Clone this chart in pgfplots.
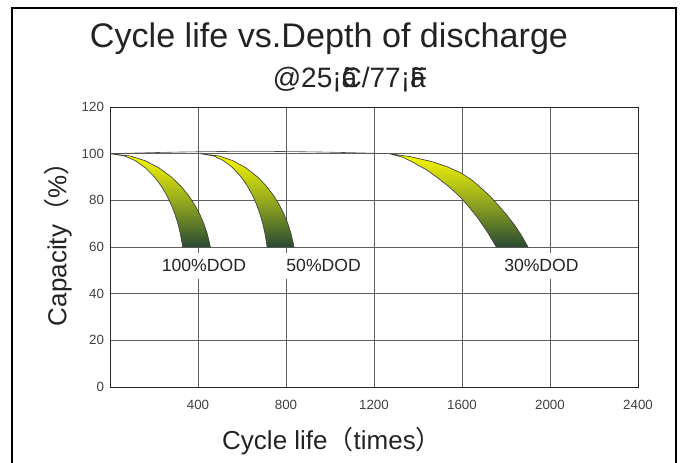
\documentclass[border=0pt]{standalone}
\usepackage{pgfplots}
\pgfplotsset{compat=1.18}
\usepackage{fontspec}
\setmainfont{Liberation Sans}
\newfontfamily\cjk{Noto Sans CJK SC}
\definecolor{bandtop}{RGB}{250,250,0}
\definecolor{bandmid}{RGB}{150,170,30}
\definecolor{bandbot}{RGB}{40,75,50}
\definecolor{gridc}{RGB}{95,95,95}
\definecolor{txt}{RGB}{35,35,35}
\begin{document}
\begin{tikzpicture}
\useasboundingbox (0,0) rectangle (511.5pt,-347.25pt);
\draw[line width=1.9pt] (9pt,-347.25pt) -- (9pt,-6pt) -- (507pt,-6pt) -- (507pt,-347.25pt);
\node[anchor=base, inner sep=0pt, text=txt, font=\fontsize{25.6}{30}\selectfont] at (246.75pt,-36pt) {Cycle life vs.Depth of discharge};
\node[anchor=base, inner sep=0pt, text=txt, font=\fontsize{21}{25}\selectfont] at (262.5pt,-66pt) {@25¡\rlap{ã}C/77¡\rlap{ã}F};
\node[rotate=90, inner sep=0pt, text=txt, font=\fontsize{19.5}{23}\selectfont] at (43.5pt,-178.5pt) {Capacity{\cjk （}\%{\cjk ）}};
\node[anchor=base, inner sep=0pt, text=txt, font=\fontsize{19.5}{23}\selectfont] at (249pt,-336.75pt) {Cycle life{\cjk （}times{\cjk ）}};
\begin{axis}[
  at={(82.5pt,-290.25pt)}, anchor=south west,
  scale only axis, width=396pt, height=210pt,
  xmin=0, xmax=2400, ymin=0, ymax=120,
  xtick={400,800,1200,1600,2000,2400},
  ytick={0,20,40,60,80,100,120},
  grid=major,
  grid style={gridc, line width=0.7pt},
  axis line style={black!85, line width=0.7pt},
  major tick length=0pt,
  /pgf/number format/assume math mode=true,
  /pgf/number format/1000 sep={},
  tick label style={font=\fontsize{10}{12}\selectfont, text=black!75},
  xticklabel style={yshift=-6pt},
  yticklabel style={xshift=-1pt},
]
\addplot[black!70, line width=0.45pt, smooth] coordinates {(0,100) (320,100.7) (640,101) (960,100.7) (1269,100)};
% 100% DOD
\addplot[draw=black!75, line width=0.5pt, top color=bandtop, bottom color=bandbot, middle color=bandmid] coordinates {
(0,100) (92.6,99) (158.8,97) (221.1,94) (279.3,90) (323.0,86) (357.6,82) (385.6,78) (408.3,74) (426.5,70) (440.9,66) (451.8,62) (456,60)
(330,60) (327,62) (319.1,66) (308.7,70) (295.5,74) (279,78) (258.8,82) (233.7,86) (202.1,90) (160,94) (114.9,97) (67,99)
} -- cycle;
% 50% DOD
\addplot[draw=black!75, line width=0.5pt, top color=bandtop, bottom color=bandbot, middle color=bandmid] coordinates {
(410,100) (496.5,99) (558.3,97) (616.5,94) (670.9,90) (711.7,86) (744.1,82) (770.2,78) (791.4,74) (808.5,70) (821.9,66) (832.1,62) (836,60)
(714,60) (711.2,62) (703.9,66) (694.4,70) (682.2,74) (667.1,78) (648.4,82) (625.3,86) (596.2,90) (557.4,94) (515.9,97) (471.7,99)
} -- cycle;
% 30% DOD
\addplot[draw=black!75, line width=0.5pt, top color=bandtop, bottom color=bandbot, middle color=bandmid] coordinates {
(1269,100) (1360,98.8) (1459,96.7) (1530,94.5) (1596,91.7) (1645,88.7) (1687,85.3) (1727,81.8) (1763,78.1) (1802,73.9) (1839,69.4) (1870,65) (1900,60)
(1756,60) (1715,66.5) (1672,72.4) (1635,76.8) (1596,81) (1545,85.5) (1490,89.6) (1440,93) (1383,96) (1330,98.5)
} -- cycle;
\end{axis}
\begin{axis}[
  at={(82.5pt,-290.25pt)}, anchor=south west,
  scale only axis, width=396pt, height=210pt,
  xmin=0, xmax=2400, ymin=0, ymax=120,
  hide axis,
]
\addplot[draw=none, forget plot] coordinates {(0,0) (2400,120)};
\node[fill=white, inner xsep=3pt, inner ysep=5pt, text=txt, font=\fontsize{13.2}{15}\selectfont] at (axis cs:427,52) {100\%DOD};
\node[fill=white, inner xsep=3pt, inner ysep=5pt, text=txt, font=\fontsize{13.2}{15}\selectfont] at (axis cs:971,52) {50\%DOD};
\node[fill=white, inner xsep=3pt, inner ysep=5pt, text=txt, font=\fontsize{13.2}{15}\selectfont] at (axis cs:1961,52) {30\%DOD};
\end{axis}
\end{tikzpicture}
\end{document}
